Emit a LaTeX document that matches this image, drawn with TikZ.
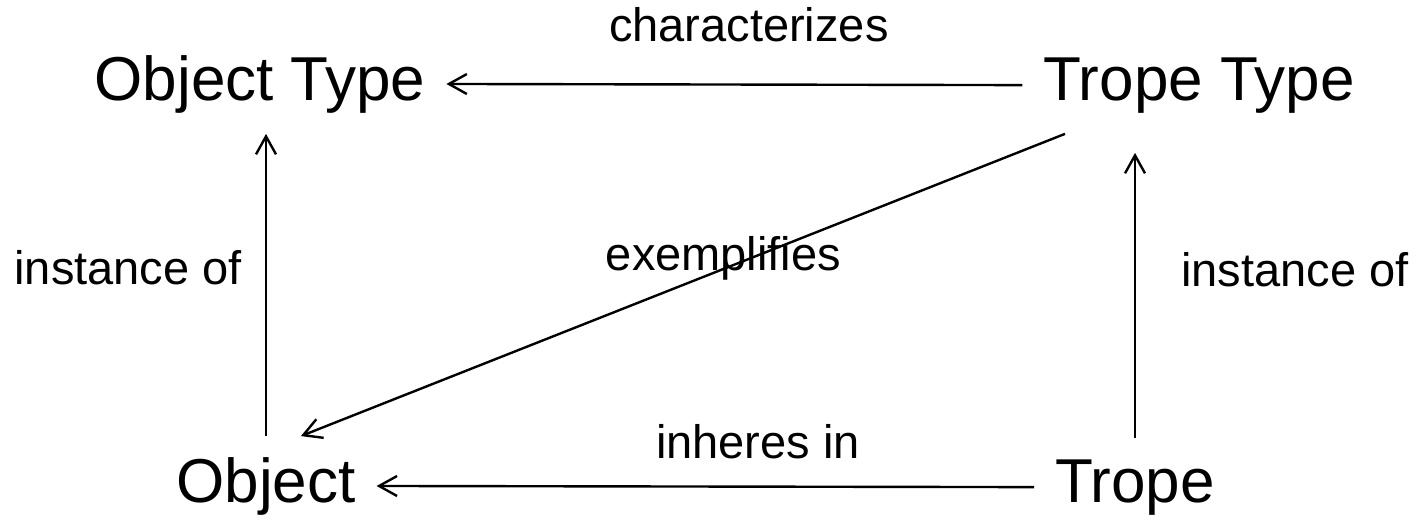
\documentclass[tikz,border=0pt]{standalone}
\usepackage{fontspec}
\setmainfont{Liberation Sans}
\usetikzlibrary{arrows.meta, positioning}

\begin{document}
\begin{tikzpicture}[x=0.5pt, y=-0.5pt,
  termbox/.style={inner sep=1.5pt, outer sep=9pt, font=\fontsize{31}{37}\selectfont},
  lbl/.style={inner sep=0pt, font=\fontsize{23.5}{28}\selectfont},
  arr/.style={-{Straight Barb[length=9pt, width=10pt]}, line width=1.2pt}]

  \useasboundingbox (0,0) rectangle (1422,524);

  \node[termbox, anchor=base] (otype) at (260,100) {Object Type};
  \node[termbox, anchor=base] (ttype) at (1199,100) {Trope Type};
  \node[termbox, anchor=base] (obj) at (266,502) {Object};
  \node[termbox, anchor=base] (trope) at (1135,502) {Trope};

  \draw[arr] (ttype.west) -- node[lbl, pos=0.475, above=20.5pt] {characterizes} (otype.east);
  \draw[arr] (trope.west) -- node[lbl, pos=0.42, above=13pt] {inheres in} (obj.east);
  \draw[arr] (obj.north) -- node[lbl, pos=0.558, left=11.5pt] {instance of} (obj.north |- otype.south);
  \draw[arr, shorten >=9.5pt] (trope.north) -- node[lbl, pos=0.555, right=22.5pt] {instance of} (trope.north |- ttype.south);

  % diagonal crosses its own label
  \draw[arr] (ttype.200) -- node[lbl, pos=0.447, yshift=5.5pt] {exemplifies} (obj.55);
\end{tikzpicture}
\end{document}
